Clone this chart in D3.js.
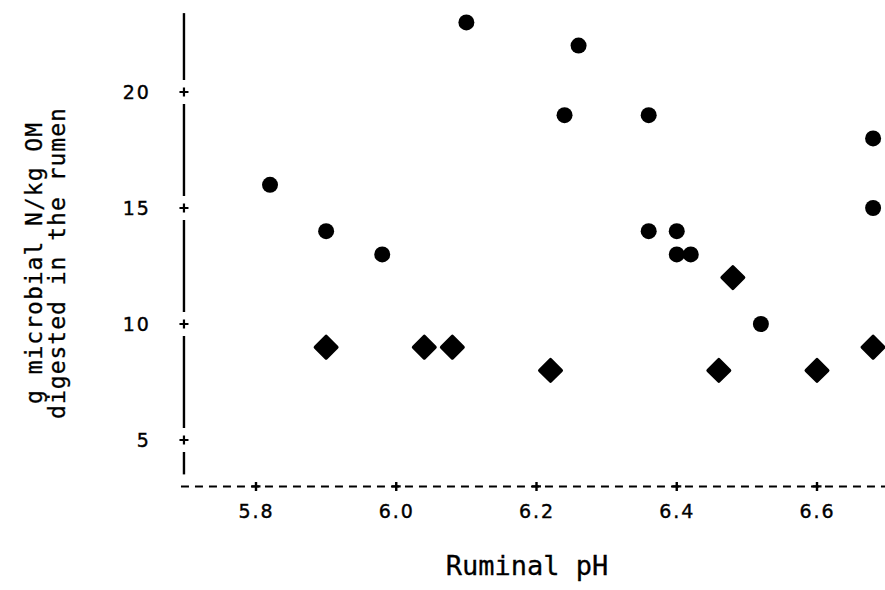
<html>
<head>
<script src="https://d3js.org/d3.v7.min.js"></script>
<style>
  body { margin: 0; background: white; }
  .tick text { font-family: "DejaVu Sans"; font-size: 19px; letter-spacing: 2px; fill: black; stroke: black; stroke-width: 0.4px; }
  .title { font-family: "DejaVu Sans Mono"; fill: black; stroke: black; stroke-width: 0.3px; }
</style>
</head>
<body>
<svg id="chart" width="885" height="590"></svg>
<script>
// readings: circles (one treatment group) and diamonds (the other)
const circlePH = [5.82, 5.90, 5.98, 6.10, 6.26, 6.24, 6.36, 6.36, 6.40, 6.40, 6.42, 6.52, 6.68, 6.68];
const circleN  = [16, 14, 13, 23, 22, 19, 19, 14, 14, 13, 13, 10, 18, 15];
const diamondPH = [5.90, 6.04, 6.08, 6.22, 6.48, 6.46, 6.60, 6.68];
const diamondN  = [9, 9, 9, 8, 12, 8, 8, 9];

const xTicks = [5.8, 6.0, 6.2, 6.4, 6.6];
const yTicks = [5, 10, 15, 20];

const svg = d3.select("#chart");

// scales
const x = d3.scaleLinear().domain([5.8, 6.6]).range([256, 817]);
const y = d3.scaleLinear().domain([5, 20]).range([440, 92]);

const xStart = 5.693, xEnd = 6.71;   // x axis extent (pH)
const yBase = 3, yTop = 23.4;        // y axis extent (g N/kg)
const gap = 12;
const cross = "M-4.5,0H4.5M0,-4.5V4.5";

// y axis: solid segments interrupted around each "+"
const yStops = [yBase, ...yTicks, yTop];
const yAxisG = svg.append("g");
for (let i = 0; i < yStops.length - 1; i++) {
  const y1 = y(yStops[i]) - gap;
  const y2 = i === yStops.length - 2 ? y(yStops[i + 1]) : y(yStops[i + 1]) + gap;
  yAxisG.append("line")
    .attr("x1", x(xStart) + 3).attr("x2", x(xStart) + 3)
    .attr("y1", y1).attr("y2", y2)
    .attr("stroke", "black").attr("stroke-width", 2.4);
}
yAxisG.selectAll("path.cross").data(yTicks).join("path")
  .attr("class", "cross")
  .attr("d", cross)
  .attr("transform", d => `translate(${x(xStart) + 3},${y(d)})`)
  .attr("stroke", "black").attr("stroke-width", 2.2);

const leftAxis = d3.axisLeft(y).tickValues(yTicks).tickSize(0).tickPadding(33);
svg.append("g")
  .attr("transform", `translate(${x(xStart) + 3},0)`)
  .call(leftAxis)
  .call(g => g.select(".domain").remove());

// x axis: dashed line with "+" at ticks
svg.append("line")
  .attr("x1", x(xStart)).attr("x2", x(xEnd))
  .attr("y1", y(yBase)).attr("y2", y(yBase))
  .attr("stroke", "black").attr("stroke-width", 2)
  .attr("stroke-dasharray", "8,6");
svg.selectAll("path.xcross").data(xTicks).join("path")
  .attr("class", "xcross")
  .attr("d", cross)
  .attr("transform", d => `translate(${x(d)},${y(yBase)})`)
  .attr("stroke", "black").attr("stroke-width", 2.4);

const bottomAxis = d3.axisBottom(x).tickValues(xTicks).tickFormat(d3.format(".1f")).tickSize(0).tickPadding(18);
svg.append("g")
  .attr("transform", `translate(0,${y(yBase)})`)
  .call(bottomAxis)
  .call(g => g.select(".domain").remove());

// circles
svg.selectAll("circle.pt").data(d3.zip(circlePH, circleN)).join("circle")
  .attr("class", "pt")
  .attr("cx", d => x(d[0]))
  .attr("cy", d => y(d[1]))
  .attr("r", 8)
  .attr("fill", "black");

// diamonds
const diamond = d3.symbol().type(d3.symbolSquare).size(230);
svg.selectAll("path.dm").data(d3.zip(diamondPH, diamondN)).join("path")
  .attr("class", "dm")
  .attr("d", diamond)
  .attr("transform", d => `translate(${x(d[0])},${y(d[1])}) rotate(45)`)
  .attr("fill", "black")
  .attr("stroke", "black")
  .attr("stroke-width", 3.5)
  .attr("stroke-linejoin", "round");

// titles
svg.append("text")
  .attr("class", "title")
  .attr("x", 527).attr("y", 575)
  .attr("text-anchor", "middle")
  .style("font-size", "27px")
  .text("Ruminal pH");

const yTitle = svg.append("text")
  .attr("class", "title")
  .attr("transform", "translate(0,263) rotate(-90)")
  .attr("text-anchor", "middle")
  .style("font-size", "23px")
  .style("letter-spacing", "1px");
yTitle.append("tspan").attr("x", 0).attr("y", 42).text("g microbial N/kg OM");
yTitle.append("tspan").attr("x", 0).attr("y", 65).text("digested in the rumen");
</script>
</body>
</html>
